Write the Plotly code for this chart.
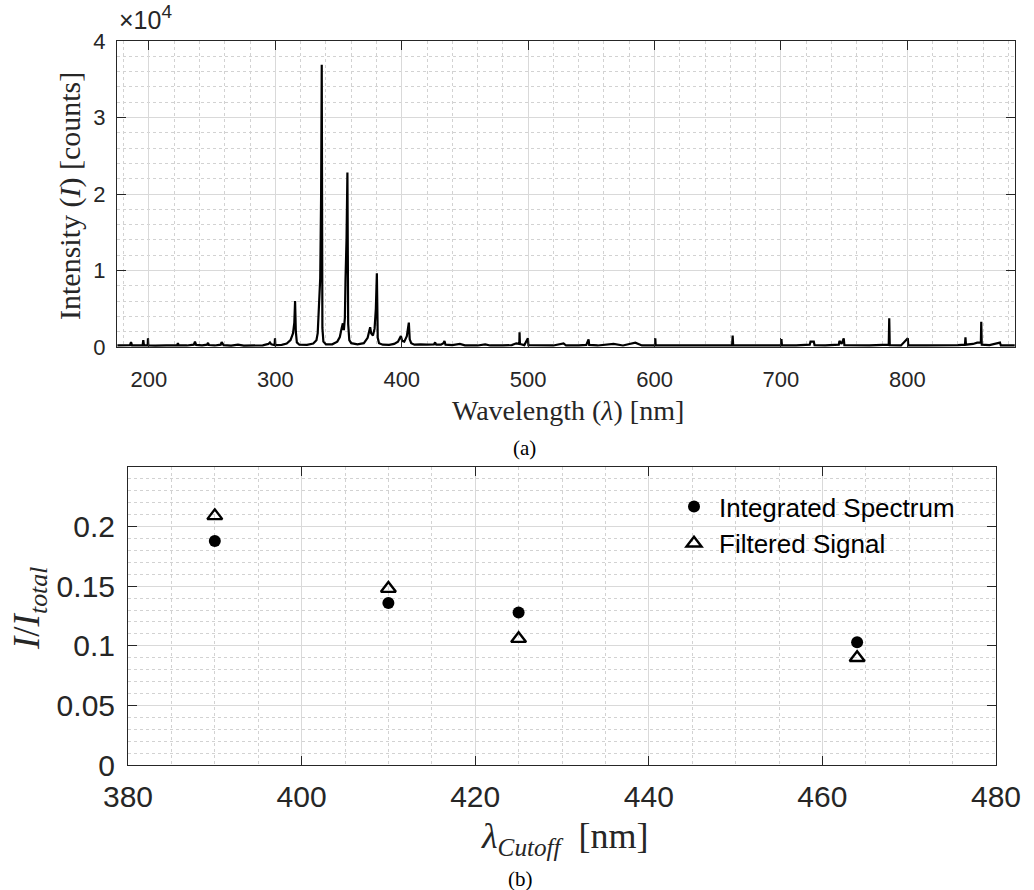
import plotly.graph_objects as go

# ---- Panel (a): emission spectrum --------------------------------------
wavelength_nm = [
    175.0, 180.0, 185.0, 185.8, 186.6, 190.0, 195.0, 195.5, 196.0, 199.0,
    199.2, 199.5, 205.0, 210.0, 215.0, 222.3, 222.9, 223.5, 230.0, 235.5,
    236.4, 237.3, 242.0, 246.0, 246.7, 247.4, 252.0, 256.8, 257.5, 258.2,
    259.0, 265.0, 270.4, 275.0, 280.0, 290.0, 294.5, 295.7, 296.8, 299.4,
    299.7, 300.0, 305.0, 309.0, 312.0, 314.0, 315.0, 315.6, 316.2, 317.0,
    319.0, 325.0, 330.0, 332.5, 333.5, 334.2, 334.6, 335.5, 336.2, 336.7,
    337.2, 338.0, 340.0, 345.0, 349.0, 351.0, 352.5, 353.4, 354.2, 355.0,
    355.5, 356.3, 357.0, 357.6, 358.5, 360.0, 365.0, 370.0, 373.0, 374.3,
    375.0, 375.8, 377.2, 378.5, 379.5, 380.3, 381.0, 382.0, 385.0, 390.0,
    394.0, 397.0, 399.3, 400.3, 402.0, 404.0, 405.0, 405.6, 406.3, 407.5,
    410.0, 415.0, 420.0, 425.5, 426.4, 427.3, 431.0, 433.0, 433.8, 434.6,
    440.0, 446.0, 450.0, 460.0, 466.0, 470.0, 480.0, 487.0, 490.6, 493.0,
    493.2, 493.5, 497.0, 499.8, 500.2, 510.0, 520.0, 528.0, 530.0, 540.0,
    546.0, 547.8, 548.3, 555.0, 567.6, 575.0, 584.8, 590.0, 600.3, 600.6,
    600.9, 610.0, 620.0, 640.0, 655.0, 661.4, 661.8, 662.2, 680.0, 700.0,
    700.4, 700.8, 712.0, 722.8, 723.4, 726.0, 726.6, 735.0, 745.8, 746.3,
    748.0, 749.7, 750.2, 760.0, 770.0, 785.3, 785.7, 786.1, 795.0, 800.4,
    800.8, 815.0, 830.0, 840.0, 845.6, 846.0, 846.4, 852.0, 855.3, 858.2,
    858.5, 858.9, 865.0, 873.3, 874.0, 885.0,
]
intensity_counts = [
    200, 180, 250, 650, 220, 200, 250, 900, 230, 220,
    1130, 220, 180, 200, 170, 250, 520, 220, 200, 300,
    700, 280, 220, 300, 550, 260, 200, 300, 650, 350,
    250, 180, 320, 170, 200, 220, 400, 600, 350, 250,
    1140, 250, 280, 450, 900, 1800, 3200, 6020, 2000, 600,
    300, 280, 450, 900, 1800, 4000, 6600, 9000, 20000, 36900,
    2500, 700, 350, 350, 700, 1300, 2500, 3100, 2200, 3800,
    8800, 14000, 22800, 3000, 900, 500, 350, 500, 1200, 2200,
    2580, 1800, 1500, 2400, 5000, 9650, 1200, 500, 300, 280,
    400, 700, 1440, 800, 700, 1400, 2500, 3180, 1000, 500,
    300, 350, 300, 350, 600, 300, 300, 500, 790, 300,
    250, 400, 220, 200, 350, 200, 200, 250, 480, 400,
    1920, 400, 250, 1140, 250, 200, 200, 480, 200, 200,
    280, 1000, 280, 200, 400, 200, 570, 200, 200, 1140,
    200, 200, 220, 200, 200, 250, 1480, 250, 200, 250,
    1050, 250, 200, 300, 700, 700, 250, 200, 300, 790,
    400, 1140, 250, 200, 200, 300, 3760, 250, 200, 1140,
    200, 200, 200, 250, 300, 1270, 300, 400, 570, 600,
    3310, 300, 250, 570, 200, 200,
]
spectrum_x_range = [174.7, 885.2]
spectrum_x_ticks = [200, 300, 400, 500, 600, 700, 800]
spectrum_y_ticks = [0, 10000, 20000, 30000, 40000]
spectrum_y_labels = ["0", "1", "2", "3", "4"]

# ---- Panel (b): intensity fraction vs. cutoff wavelength ---------------
cutoff_nm = [390, 410, 425, 464]
integrated_ratio = [0.188, 0.136, 0.128, 0.103]
filtered_ratio = [0.209, 0.148, 0.106, 0.090]
ratio_y_ticks = [0, 0.05, 0.1, 0.15, 0.2]
ratio_y_labels = ["0", "0.05", "0.1", "0.15", "0.2"]

W, H = 1034, 890
INK = "#262626"
SANS = "Liberation Sans, Arial, sans-serif"
SERIF = "Liberation Serif, Times New Roman, serif"


def px_x(p):
    return p / W


def px_y(p):
    return 1 - p / H


def axis_style(font_size, minor_dtick, **kw):
    base = dict(
        automargin=False,
        showline=True, linecolor=INK, linewidth=1, mirror="allticks",
        ticks="inside", ticklen=9, tickwidth=1, tickcolor=INK,
        showgrid=True, gridcolor="#d9d9d9", gridwidth=1,
        zeroline=False,
        tickfont=dict(family=SANS, size=font_size, color=INK),
        minor=dict(dtick=minor_dtick, showgrid=True, gridcolor="#d2d2d2",
                   griddash="dot", gridwidth=1),
    )
    base.update(kw)
    return base


fig = go.Figure()

fig.add_trace(go.Scatter(
    x=wavelength_nm, y=intensity_counts, mode="lines",
    line=dict(color="black", width=2.2),
    showlegend=False, xaxis="x", yaxis="y",
))

fig.add_trace(go.Scatter(
    x=cutoff_nm, y=integrated_ratio, mode="markers", name="Integrated Spectrum",
    marker=dict(symbol="circle", size=12, color="black"),
    xaxis="x2", yaxis="y2",
))
fig.add_trace(go.Scatter(
    x=cutoff_nm, y=filtered_ratio, mode="markers", name="Filtered Signal",
    marker=dict(symbol="triangle-up-open", size=13, color="black",
                line=dict(width=2.4, color="black")),
    xaxis="x2", yaxis="y2",
))

fig.update_layout(
    template="none",
    width=W, height=H, autosize=False,
    margin=dict(l=0, r=0, t=0, b=0, pad=0),
    paper_bgcolor="white", plot_bgcolor="white",
    xaxis=axis_style(22, 20, domain=[px_x(117), px_x(1015)],
                     range=spectrum_x_range, tickvals=spectrum_x_ticks,
                     ticklabelstandoff=13, anchor="y"),
    yaxis=axis_style(22, 2000, domain=[px_y(347), px_y(41)],
                     range=[0, 40000], tickvals=spectrum_y_ticks,
                     ticktext=spectrum_y_labels, ticklabelstandoff=6,
                     anchor="x"),
    xaxis2=axis_style(30, 5, domain=[px_x(128), px_x(996)],
                      range=[380, 480], dtick=20, tick0=380,
                      ticklabelstandoff=5, anchor="y2"),
    yaxis2=axis_style(30, 0.01, domain=[px_y(765), px_y(467)],
                      range=[0, 0.25], tickvals=ratio_y_ticks,
                      ticktext=ratio_y_labels, ticklabelstandoff=6,
                      anchor="x2"),
    legend=dict(
        x=px_x(669), y=px_y(483), xanchor="left", yanchor="top",
        bgcolor="rgba(0,0,0,0)", borderwidth=0, itemwidth=40,
        font=dict(family=SANS, size=26, color="black"),
        tracegroupgap=0,
    ),
    showlegend=True,
)

annotations = [
    # exponent of the spectrum y axis
    dict(text="\u00d710<sup><span style='font-size:19px'>4</span></sup>",
         x=px_x(117), y=px_y(36), xanchor="left", yanchor="bottom",
         font=dict(family=SANS, size=25, color=INK)),
    dict(text="Intensity (<i>I</i>) [counts]", x=px_x(70), y=px_y(196),
         textangle=-90, xanchor="center", yanchor="middle",
         font=dict(family=SERIF, size=30, color=INK)),
    dict(text="Wavelength (<i>\u03bb</i>) [nm]", x=px_x(568), y=px_y(411),
         xanchor="center", yanchor="middle",
         font=dict(family=SERIF, size=28, color=INK)),
    dict(text="(a)", x=px_x(524), y=px_y(448), xanchor="center",
         yanchor="middle", font=dict(family=SERIF, size=21, color="black")),
    dict(text="<i>I</i>/<i>I</i><sub><i>total</i></sub>", x=px_x(29),
         y=px_y(609), textangle=-90, xanchor="center", yanchor="middle",
         font=dict(family=SERIF, size=37, color=INK)),
    dict(text="<i>\u03bb</i><sub><i>Cutoff</i></sub>  [nm]", x=px_x(565),
         y=px_y(838), xanchor="center", yanchor="middle",
         font=dict(family=SERIF, size=36, color=INK)),
    dict(text="(b)", x=px_x(520), y=px_y(879), xanchor="center",
         yanchor="middle", font=dict(family=SERIF, size=21, color="black")),
]
for a in annotations:
    a.update(xref="paper", yref="paper", showarrow=False)
fig.update_layout(annotations=annotations)

fig.write_html("out.html")
